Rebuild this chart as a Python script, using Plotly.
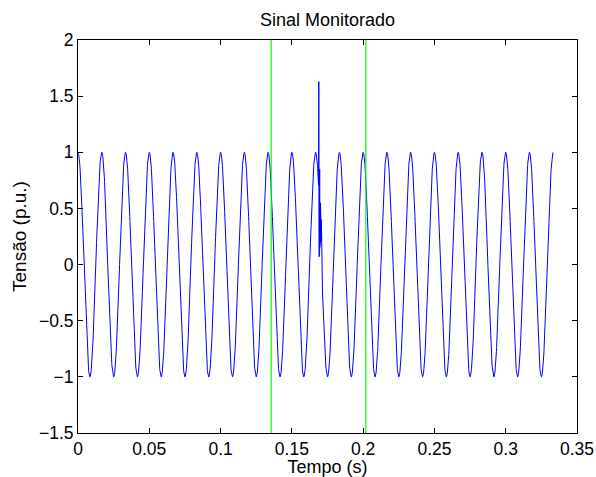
import numpy as np
import plotly.graph_objects as go

# --- data ---
freq_hz = 60.0          # 20 cycles over 0.3333 s
amplitude = 1.0
duration_s = 1.0 / 3.0
samples_per_cycle = 128

# transient burst superimposed near t = 0.169 s
t_transient = [0.16880, 0.16890, 0.16895, 0.16900, 0.16905, 0.16910, 0.16915,
               0.16920, 0.16925, 0.16930, 0.16935, 0.16940, 0.16945, 0.16950,
               0.16955, 0.16960, 0.16965, 0.16970, 0.16975, 0.16980, 0.16985,
               0.16990, 0.16995, 0.17000, 0.17005, 0.17010, 0.17015, 0.17020,
               0.17025, 0.17030, 0.17040, 0.17050, 0.17060, 0.17070, 0.17080,
               0.17090, 0.17100, 0.17110, 0.17120]
v_transient = [0.75, 1.63, 0.55, 1.05, 0.07, 1.02, 0.08, 1.00, 0.10, 0.98,
               0.12, 0.90, 0.10, 0.85, 0.15, 0.65, 0.17, 0.65, 0.18, 0.62,
               0.20, 0.60, 0.18, 0.58, 0.20, 0.55, 0.22, 0.50, 0.20, 0.48,
               0.22, 0.45, 0.20, 0.40, 0.18, 0.30, 0.10, 0.05, -0.09]

# monitoring window markers (green)
window_marks = [0.1355, 0.2019]

x_ticks = [0, 0.05, 0.1, 0.15, 0.2, 0.25, 0.3, 0.35]
y_ticks = [-1.5, -1, -0.5, 0, 0.5, 1, 1.5, 2]
x_range = [0, 0.35]
y_range = [-1.5, 2]

# --- build the signal ---
dt = 1.0 / (freq_hz * samples_per_cycle)
t = np.arange(0, duration_s + dt / 2, dt)
v = amplitude * np.cos(2 * np.pi * freq_hz * t)
mask = (t < t_transient[0]) | (t > t_transient[-1])
t_all = np.concatenate([t[mask], np.array(t_transient)])
v_all = np.concatenate([v[mask], np.array(v_transient)])
order = np.argsort(t_all, kind="stable")
t_all = t_all[order]
v_all = v_all[order]

fig = go.Figure()
fig.add_trace(go.Scatter(x=t_all, y=v_all, mode="lines",
                         line=dict(color="#0000ff", width=1), showlegend=False))
for xm in window_marks:
    fig.add_trace(go.Scatter(x=[xm, xm], y=y_range, mode="lines",
                             line=dict(color="#00ff00", width=1.2), showlegend=False))

font_family = "Liberation Sans, Arial, sans-serif"
axis_common = dict(
    showline=True, linecolor="black", linewidth=1, mirror="ticks",
    ticks="inside", ticklen=5, tickcolor="black", tickwidth=1,
    showgrid=False, zeroline=False, automargin=False,
    tickfont=dict(family=font_family, size=17.5, color="black"),
)

fig.update_layout(
    width=596, height=477,
    paper_bgcolor="white", plot_bgcolor="white",
    margin=dict(l=78, r=19, t=40, b=44),
    font=dict(family=font_family, color="black"),
    title=dict(text="Sinal Monitorado", x=0.5, xanchor="center", xref="paper",
               y=1 - 20 / 477, yanchor="middle", yref="container",
               font=dict(size=18, family=font_family, color="black")),
    xaxis=dict(range=x_range, tickvals=x_ticks,
               ticktext=[f"{v:g}" for v in x_ticks],
               title=dict(text="Tempo (s)", standoff=3,
                          font=dict(size=18, family=font_family)),
               **axis_common),
    yaxis=dict(range=y_range, tickvals=y_ticks,
               ticktext=[f"{v:g}".replace("-", "\u2212") for v in y_ticks],
               title=dict(text="Tensão (p.u.)", standoff=7,
                          font=dict(size=19, family=font_family)),
               **axis_common),
)

fig.write_html("out.html",
               config={"displayModeBar": False},
               post_script="document.body.style.margin='0';document.body.style.overflow='hidden';")
